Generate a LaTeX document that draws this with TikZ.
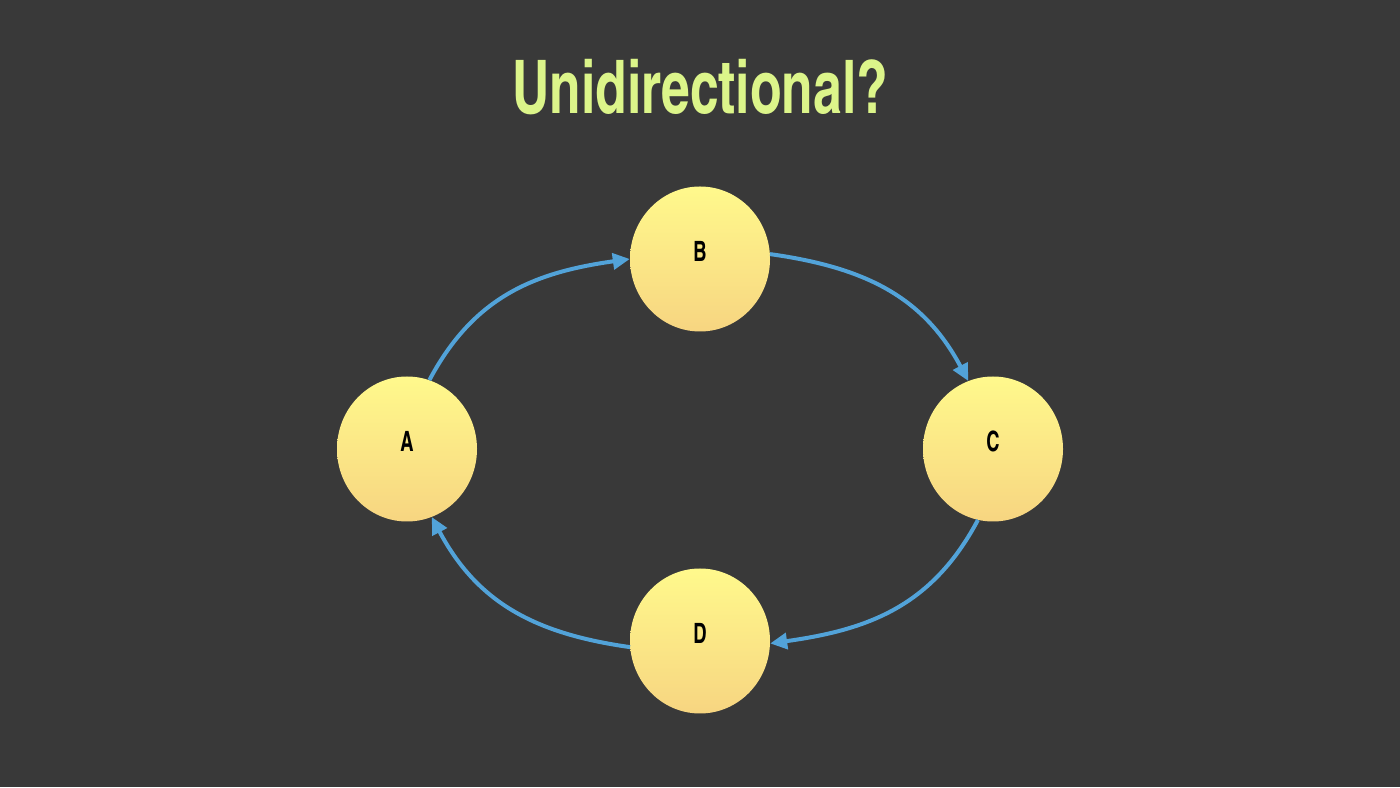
\documentclass[tikz,border=0pt]{standalone}
\usepackage{fontspec}
\newfontfamily\cond{texgyreheroscn-bold.otf}
\usetikzlibrary{shapes.geometric,arrows.meta}
\definecolor{bg}{HTML}{393939}
\definecolor{titlec}{HTML}{DCF58A}
\definecolor{ctop}{HTML}{FFF98C}
\definecolor{cbot}{HTML}{F7D581}
\definecolor{arrowc}{HTML}{52A3D9}
\begin{document}
\begin{tikzpicture}[x=1pt,y=1pt,
  vert/.style={ellipse, minimum width=140pt, minimum height=145pt, inner sep=0pt,
    top color=ctop, bottom color=cbot, draw=none,
    font=\cond\fontsize{28}{28}\selectfont, text height=20pt, text depth=14pt},
  link/.style={draw=arrowc, line width=4pt, looseness=1.04, -{Triangle[length=17pt,width=16pt]}}]
\fill[bg] (0,0) rectangle (1400,787);
\useasboundingbox (0,0) rectangle (1400,787);
\node[font=\cond\fontsize{74}{74}\selectfont, text=titlec, anchor=base] (title) at (700,673) {\scalebox{0.85}[1]{Unidirectional?}};
\node[vert] (A) at (407,338) {\scalebox{0.8}[1]{A}};
\node[vert] (B) at (700,528) {\scalebox{0.8}[1]{B}};
\node[vert] (C) at (993,338) {\scalebox{0.8}[1]{C}};
\node[vert] (D) at (700,146) {\scalebox{0.8}[1]{D}};
\draw[link] (A.72) to[out=62,in=188] (B.west);
\draw[link] (B.4) to[out=-8,in=118] (C.110);
\draw[link] (C.258) to[out=242,in=8] (D.-2);
\draw[link] (D.185) to[out=172,in=-62] (A.290);
\end{tikzpicture}
\end{document}
